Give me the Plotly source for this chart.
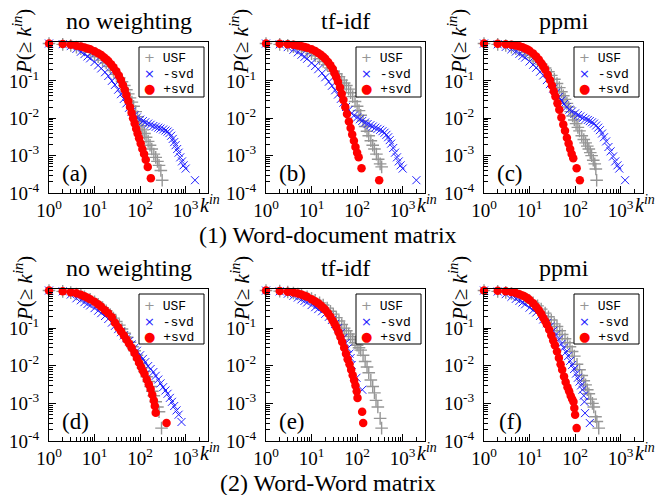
import plotly.graph_objects as go

W, H = 657, 495

# ---------------- text ----------------
panel_titles = ["no weighting", "tf-idf", "ppmi", "no weighting", "tf-idf", "ppmi"]
panel_tags = ["(a)", "(b)", "(c)", "(d)", "(e)", "(f)"]
row_captions = ["(1) Word-document matrix", "(2) Word-Word matrix"]
series_names = ["USF", "-svd", "+svd"]
legend_glyphs = ["+", "×", "●"]

x_tick_vals = [1, 10, 100, 1000]
x_tick_text = ["10<sup>0</sup>", "10<sup>1</sup>", "10<sup>2</sup>", "10<sup>3</sup>"]
y_tick_vals = [1e-4, 1e-3, 1e-2, 1e-1]
y_tick_text = ["10<sup>-4</sup>", "10<sup>-3</sup>", "10<sup>-2</sup>", "10<sup>-1</sup>"]

# ---------------- data: (a) word-document, no weighting ----------------
usf_k_a = [1,2,3,4,5,6,8,10,12,15,18,22,26,30,35,40,45,50,55,60,66,72,80,88,96,105,115,125,135,150,165,180,200,220,240,260,285,305]
usf_p_a = [1,.95,.88,.80,.73,.67,.58,.50,.44,.36,.30,.24,.19,.15,.12,.095,.075,.058,.045,.035,.027,.021,.015,.011,.0083,.0063,.0049,.0039,.0031,.0024,.0019,.0015,.0011,.0009,.0007,.00055,.0004,.00022]
nosvd_k_a = [1,2,3,4,5,6,7,8,10,12,14,17,20,24,28,33,38,44,50,57,65,75,85,100,115,130,150,170,195,220,250,280,320,360,400,440,480,520,560,600,650,700,760,830,900,1000,1600]
nosvd_p_a = [1,.96,.85,.72,.60,.52,.45,.40,.32,.26,.215,.17,.135,.10,.078,.058,.044,.033,.025,.019,.015,.012,.0105,.0092,.0084,.0078,.0072,.0067,.0062,.0059,.0056,.0053,.0050,.0047,.0044,.0040,.0034,.0028,.0023,.0019,.0015,.0012,.0009,.0007,.00055,.00045,.00022]
svd_k_a = [1,2,3,4,5,6,7,8,10,12,14,16,18,20,23,26,30,34,38,42,46,50,55,60,65,70,76,82,88,95,103,112,122,133,147,172]
svd_p_a = [1,.97,.92,.87,.83,.78,.74,.70,.62,.55,.49,.43,.38,.34,.28,.23,.18,.14,.105,.078,.058,.042,.029,.020,.014,.010,.0072,.0052,.0039,.0029,.0021,.0015,.0011,.00078,.0005,.00025]

# ---------------- (b) word-document, tf-idf ----------------
usf_k_b = [1,2,3,4,5,6,8,10,12,15,18,22,26,30,35,40,46,52,58,65,72,80,90,100,110,120,135,150,165,180,200,220,240,265,290,320,346]
usf_p_b = [1,.95,.89,.82,.76,.70,.61,.53,.47,.39,.33,.27,.22,.18,.155,.13,.105,.088,.075,.060,.048,.038,.028,.021,.016,.012,.0085,.0060,.0045,.0034,.0025,.0019,.0015,.0011,.0008,.0006,.0005]
nosvd_k_b = [1,2,3,4,5,6,7,8,10,12,14,17,20,24,28,33,38,44,50,57,65,75,85,100,115,130,150,170,195,220,250,280,320,360,400,440,480,520,560,620,680,750,820,900,1000,2000]
nosvd_p_b = [1,.95,.80,.68,.58,.50,.44,.39,.30,.25,.205,.16,.125,.095,.074,.056,.043,.033,.026,.020,.0165,.0135,.0118,.0105,.0094,.0085,.0077,.0070,.0065,.0060,.0056,.0052,.0049,.0045,.0041,.0036,.0031,.0026,.0021,.0016,.0012,.0009,.0007,.00055,.00045,.00022]
svd_k_b = [1,2,3,4,5,6,7,8,10,12,14,16,18,20,23,26,29,32,35,38,42,46,50,55,60,66,72,78,85,92,100,108,125,305]
svd_p_b = [1,.98,.95,.92,.89,.85,.81,.77,.70,.63,.56,.50,.44,.39,.32,.26,.21,.16,.125,.095,.066,.045,.031,.020,.013,.0082,.0055,.0037,.0025,.0017,.0012,.0009,.00046,.00022]

# ---------------- (c) word-document, ppmi ----------------
usf_k_c = [1,2,3,4,5,6,8,10,12,15,18,22,26,30,35,40,45,50,55,60,66,72,80,88,96,105,115,125,140,155,170,185,200,215,230,250,270,285,297]
usf_p_c = [1,.95,.88,.80,.73,.67,.57,.49,.42,.34,.28,.22,.175,.14,.11,.085,.066,.051,.040,.032,.025,.020,.0150,.0115,.0090,.0072,.0057,.0046,.0034,.0027,.0022,.0018,.0015,.0012,.0010,.00075,.0006,.00044,.00022]
nosvd_k_c = [1,2,3,4,5,6,7,8,10,12,14,17,20,24,28,33,38,44,50,57,65,75,85,100,115,130,150,170,190,210,235,260,290,320,350,390,430,480,540,600,680,760,850,930,1250]
nosvd_p_c = [1,.95,.81,.70,.61,.53,.47,.42,.33,.27,.225,.175,.14,.105,.082,.062,.048,.037,.030,.024,.020,.017,.0152,.0135,.0122,.0112,.0103,.0096,.009,.0084,.0078,.0072,.0064,.0056,.0048,.0039,.0031,.0024,.0017,.0013,.00095,.0007,.00055,.00045,.00022]
svd_k_c = [1,2,3,4,5,6,7,8,9,10,12,14,16,18,20,22,25,28,31,34,37,41,45,50,55,60,66,72,78,84,91,108,127]
svd_p_c = [1,.98,.96,.93,.89,.84,.79,.74,.69,.64,.54,.45,.37,.30,.245,.20,.145,.105,.075,.053,.038,.025,.017,.0105,.0068,.0046,.003,.0021,.0015,.0011,.00085,.00046,.00022]

# ---------------- (d) word-word, no weighting ----------------
usf_k_d = [1,2,3,4,5,6,8,10,12,15,18,22,26,30,35,40,46,52,60,68,76,85,95,105,115,125,140,155,170,185,200,220,240,260,295]
usf_p_d = [1,.95,.88,.81,.74,.68,.58,.50,.43,.35,.29,.23,.185,.15,.12,.095,.073,.057,.042,.032,.025,.019,.0145,.0112,.0088,.007,.0051,.0038,.0028,.0021,.0016,.0011,.0008,.0006,.00022]
nosvd_k_d = [1,2,3,4,5,6,7,8,10,12,14,17,20,24,28,33,38,44,50,57,65,75,85,100,115,130,150,170,195,220,250,280,320,360,400,450,500,560,630,700,810]
nosvd_p_d = [1,.95,.78,.62,.55,.49,.44,.40,.34,.29,.25,.21,.175,.14,.115,.094,.078,.064,.054,.045,.037,.030,.025,.019,.0152,.0125,.0098,.0082,.0068,.0054,.0043,.0034,.0027,.0022,.0018,.0014,.0011,.00085,.00065,.0005,.00032]
svd_k_d = [1,2,3,4,5,6,7,8,10,12,14,17,20,24,28,33,38,44,50,57,65,75,85,95,105,115,125,140,155,170,185,200,210,220,380]
svd_p_d = [1,.96,.90,.84,.77,.70,.64,.59,.50,.43,.37,.30,.25,.195,.14,.105,.083,.064,.050,.039,.030,.022,.016,.012,.0092,.0074,.006,.0043,.0032,.0024,.0017,.0012,.00085,.00056,.0003]

# ---------------- (e) word-word, tf-idf ----------------
usf_k_e = [1,2,3,4,5,6,8,10,12,15,18,22,26,30,35,40,46,52,58,65,72,80,90,100,110,120,135,150,165,180,200,220,240,260,285,320,345]
usf_p_e = [1,.96,.91,.86,.81,.76,.68,.61,.55,.47,.41,.34,.28,.235,.19,.155,.125,.10,.085,.07,.06,.05,.041,.035,.030,.026,.019,.013,.0093,.0065,.0042,.0028,.0019,.0012,.0008,.0004,.00022]
nosvd_k_e = [1,2,3,4,5,6,7,8,10,12,14,17,20,24,28,33,38,44,50,56,62,68,72,76,97,130]
nosvd_p_e = [1,.95,.82,.72,.65,.58,.53,.48,.41,.36,.32,.28,.24,.20,.165,.13,.10,.075,.055,.040,.029,.021,.016,.0105,.0048,.0023]
svd_k_e = [1,2,3,4,5,6,7,8,10,12,14,16,18,20,23,26,29,32,35,39,43,47,52,57,62,68,74,80,86,92,98,102,129,136]
svd_p_e = [1,.97,.93,.88,.83,.78,.73,.68,.59,.52,.46,.40,.35,.31,.25,.20,.16,.13,.105,.078,.058,.043,.030,.021,.015,.011,.0078,.0056,.0041,.0030,.0021,.0014,.0006,.0003]

# ---------------- (f) word-word, ppmi ----------------
usf_k_f = [1,2,3,4,5,6,8,10,12,15,18,22,26,30,35,40,46,52,60,68,77,86,96,110,125,140,155,170,185,200,220,240,257,280,300,330]
usf_p_f = [1,.95,.89,.83,.77,.71,.62,.54,.47,.39,.32,.25,.20,.165,.13,.11,.085,.068,.052,.041,.032,.024,.018,.011,.0078,.0055,.004,.0031,.0023,.0018,.0013,.001,.0008,.00044,.00033,.00022]
nosvd_k_f = [1,2,3,4,5,6,7,8,10,12,14,17,20,24,28,33,38,44,50,56,63,70,78,86,95,105,115,125,135,145,155,160,165,210]
nosvd_p_f = [1,.94,.80,.68,.60,.53,.48,.43,.35,.30,.26,.21,.17,.135,.11,.085,.067,.050,.038,.030,.023,.018,.0135,.0105,.0082,.0062,.0048,.0038,.0030,.0023,.0016,.0011,.00055,.0003]
svd_k_f = [1,2,3,4,5,6,7,8,9,10,12,14,16,18,20,22,24,27,30,33,36,40,44,48,52,57,62,68,74,80,86,92,96,100,108]
svd_p_f = [1,.98,.95,.91,.86,.80,.74,.68,.62,.56,.46,.37,.30,.24,.19,.155,.125,.09,.065,.047,.035,.024,.016,.011,.0078,.0052,.0037,.0027,.0021,.0016,.0013,.0011,.00075,.0005,.00022]

panels = [
    ((usf_k_a, usf_p_a), (nosvd_k_a, nosvd_p_a), (svd_k_a, svd_p_a)),
    ((usf_k_b, usf_p_b), (nosvd_k_b, nosvd_p_b), (svd_k_b, svd_p_b)),
    ((usf_k_c, usf_p_c), (nosvd_k_c, nosvd_p_c), (svd_k_c, svd_p_c)),
    ((usf_k_d, usf_p_d), (nosvd_k_d, nosvd_p_d), (svd_k_d, svd_p_d)),
    ((usf_k_e, usf_p_e), (nosvd_k_e, nosvd_p_e), (svd_k_e, svd_p_e)),
    ((usf_k_f, usf_p_f), (nosvd_k_f, nosvd_p_f), (svd_k_f, svd_p_f)),
]
for p in panels:
    for k, v in p:
        assert len(k) == len(v), (len(k), len(v))

# ---------------- styles ----------------
SERIF = "Liberation Serif"
MONO = "Liberation Mono"
GRAY = "rgb(150,150,150)"
BLUE = "rgb(30,30,255)"
RED = "rgb(255,0,0)"
series_colors = [GRAY, BLUE, RED]
marker_styles = [
    dict(symbol="cross-thin", size=9, color=GRAY, line=dict(width=1.4, color=GRAY)),
    dict(symbol="x-thin", size=8, color=BLUE, line=dict(width=1.0, color=BLUE)),
    dict(symbol="circle", size=8.5, color=RED, line=dict(width=0)),
]
glyph_sizes = [13, 13, 13]

col_left = [49, 266, 484]
col_w = 159
row_top = [42, 289]
row_bot = [193, 441]

minor_x = [m * 10 ** d for d in range(0, 4) for m in range(2, 10) if m * 10 ** d < 3100]
minor_y = [m * 10.0 ** d for d in range(-4, 0) for m in range(2, 10)]

fig = go.Figure()
layout = dict(
    width=W, height=H,
    margin=dict(l=0, r=0, t=0, b=0, autoexpand=False),
    paper_bgcolor="white", plot_bgcolor="white",
    font=dict(family=SERIF, color="black"),
    showlegend=False,
    annotations=[], shapes=[],
)


def px_x(px):
    return px / W


def px_y(py):
    return 1 - py / H


legend_lines = []
for s in range(3):
    legend_lines.append(
        f"<span style=\"font-family:'DejaVu Sans';font-size:{glyph_sizes[s]}px;"
        f"fill:{series_colors[s]}\">{legend_glyphs[s]}</span>"
        f"<span style=\"font-size:13px\"> {series_names[s]}</span>")
legend_text = "<br>".join(legend_lines)

for i in range(6):
    r, c = divmod(i, 3)
    n = i + 1
    xa = "x" if n == 1 else f"x{n}"
    ya = "y" if n == 1 else f"y{n}"
    for s in range(3):
        k, v = panels[i][s]
        fig.add_trace(go.Scatter(
            x=k, y=v, mode="markers", name=series_names[s],
            marker=marker_styles[s], xaxis=xa, yaxis=ya,
            cliponaxis=False, showlegend=False,
        ))
    left = col_left[c]
    right = col_left[c] + col_w
    common = dict(showline=True, linecolor="black", linewidth=1, mirror=True,
                  ticks="inside", ticklen=7, tickwidth=1, tickcolor="black",
                  showgrid=False, zeroline=False, type="log", automargin=False,
                  tickfont=dict(family=SERIF, size=19, color="black"))
    layout["xaxis" if n == 1 else f"xaxis{n}"] = dict(
        common, domain=[px_x(left), px_x(right)], anchor=ya, range=[0, 3.49],
        tickmode="array", tickvals=x_tick_vals, ticktext=x_tick_text,
        minor=dict(ticks="inside", ticklen=4, tickwidth=1, tickcolor="black",
                   tickmode="array", tickvals=minor_x, showgrid=False),
    )
    layout["yaxis" if n == 1 else f"yaxis{n}"] = dict(
        common, domain=[px_y(row_bot[r]), px_y(row_top[r])], anchor=xa, range=[-4, 0.04],
        tickmode="array", tickvals=y_tick_vals, ticktext=y_tick_text,
        ticklabelstandoff=5,
        minor=dict(ticks="inside", ticklen=4, tickwidth=1, tickcolor="black",
                   tickmode="array", tickvals=minor_y, showgrid=False),
    )
    # legend box (drawn by hand)
    bx0, bx1 = right - 69, right - 4
    by0 = row_top[r] + 5
    by1 = by0 + 50
    layout["shapes"].append(dict(
        type="rect", xref="paper", yref="paper",
        x0=px_x(bx0), x1=px_x(bx1), y0=px_y(by1), y1=px_y(by0),
        line=dict(color="black", width=1), fillcolor="white", layer="above"))
    layout["annotations"].append(dict(
        text=legend_text, xref="paper", yref="paper",
        x=px_x(bx0 + 3), y=px_y(by0 + 27), xanchor="left", yanchor="middle",
        align="left", showarrow=False,
        font=dict(family=MONO, size=12, color="black")))
    # title
    layout["annotations"].append(dict(
        text=panel_titles[i], xref="paper", yref="paper",
        x=px_x(left + col_w / 2), y=px_y(row_top[r] - 21),
        xanchor="center", yanchor="middle", showarrow=False,
        font=dict(family=SERIF, size=24, color="black")))
    # panel tag
    layout["annotations"].append(dict(
        text=panel_tags[i], xref="paper", yref="paper",
        x=px_x(left + 26), y=px_y(row_bot[r] - 20),
        xanchor="center", yanchor="middle", showarrow=False,
        font=dict(family=SERIF, size=23, color="black")))
    # y label
    layout["annotations"].append(dict(
        text="<i>P</i>(≥ <i>k</i><sup><i>in</i></sup>)", xref="paper", yref="paper",
        x=px_x(left - 26), y=px_y(row_top[r]), textangle=-90,
        xanchor="center", yanchor="middle", showarrow=False,
        font=dict(family=SERIF, size=21, color="black")))
    # x label
    layout["annotations"].append(dict(
        text="<i>k</i><sup><i>in</i></sup>", xref="paper", yref="paper",
        x=px_x(left + 149), y=px_y(row_bot[r] + 11),
        xanchor="left", yanchor="middle", showarrow=False,
        font=dict(family=SERIF, size=20, color="black")))

for r in range(2):
    layout["annotations"].append(dict(
        text=row_captions[r], xref="paper", yref="paper",
        x=px_x(328), y=px_y(row_bot[r] + 42),
        xanchor="center", yanchor="middle", showarrow=False,
        font=dict(family=SERIF, size=24, color="black")))

fig.update_layout(**layout)
fig.write_html(
    "out.html",
    config={"displayModeBar": False},
    post_script="document.body.style.margin='0px';document.body.style.padding='0px';",
)
